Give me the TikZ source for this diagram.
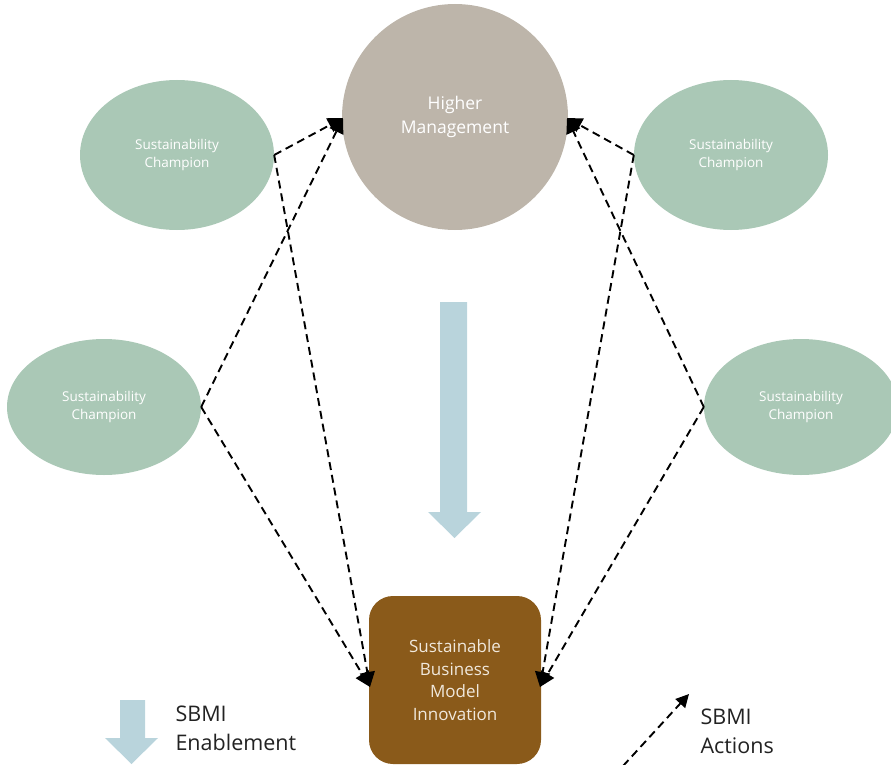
\documentclass[tikz,border=0pt]{standalone}
\usepackage{fontspec}
\setmainfont{Open Sans}
\usetikzlibrary{arrows.meta,shapes.geometric}
\definecolor{champ}{HTML}{AAC8B6}
\definecolor{mgmt}{HTML}{BDB5AA}
\definecolor{sbmi}{HTML}{8A5A1A}
\definecolor{enable}{HTML}{B9D4DC}
\definecolor{legendtxt}{HTML}{222222}
\begin{document}
\begin{tikzpicture}[x=1pt,y=-1pt,
  champion/.style={ellipse, fill=champ, minimum width=194pt, minimum height=150pt, inner sep=0pt,
    text=white, font=\fontsize{13.5}{18}\selectfont, align=center},
  action/.style={draw=black, line width=1.9pt, dash pattern=on 8pt off 5pt,
    -{Triangle[length=15pt,width=15pt]}},
  legendlabel/.style={anchor=west, align=left, text=legendtxt, font=\fontsize{21.5}{29}\selectfont}]
\useasboundingbox (0,0) rectangle (891,765);

% nodes
\node[circle, fill=mgmt, minimum size=226pt, inner sep=0pt, text=white,
  font=\fontsize{17.5}{24}\selectfont, align=center] (hm) at (455,117) {Higher\\Management};
\node[champion] (tl) at (177,155) {Sustainability\\Champion};
\node[champion] (tr) at (731,155) {Sustainability\\Champion};
\node[champion, minimum height=136pt] (ml) at (104,407) {Sustainability\\Champion};
\node[champion, minimum height=136pt] (mr) at (801,407) {Sustainability\\Champion};
\node[rectangle, rounded corners=24pt, fill=sbmi, minimum width=172pt, minimum height=168pt,
  text={rgb,255:red,240;green,232;blue,220}, font=\fontsize{17}{22.5}\selectfont, align=center]
  (box) at (455,680) {Sustainable\\Business\\Model\\Innovation};

% connection points
\coordinate (hmL) at (343,118);
\coordinate (hmR) at (567,118);
\coordinate (boxL) at (370,687);
\coordinate (boxR) at (540,687);

% enablement arrow
\fill[enable] (440,302) -- (467,302) -- (467,512) -- (481,512) -- (454.5,538) -- (428,512) -- (440,512) -- cycle;

% dashed action connectors
\draw[action] (tl.east) -- (hmL);
\draw[action] (ml.east) -- (hmL);
\draw[action] (tl.east) -- (boxL);
\draw[action] (ml.east) -- (boxL);
\draw[action] (tr.west) -- (hmR);
\draw[action] (mr.west) -- (hmR);
\draw[action] (tr.west) -- (boxR);
\draw[action] (mr.west) -- (boxR);

% legend
\fill[enable] (120,700) -- (145,700) -- (145,738) -- (158,738) -- (131.5,764) -- (105,738) -- (120,738) -- cycle;
\node[legendlabel] (lenable) at (172,728) {SBMI\\Enablement};
\coordinate (actS) at (623,766);
\coordinate (actE) at (689,694);
\draw[action, -{Triangle[length=13pt,width=13pt]}] (actS) -- (actE);
\node[legendlabel] (lact) at (697,731) {SBMI\\Actions};
\end{tikzpicture}
\end{document}
